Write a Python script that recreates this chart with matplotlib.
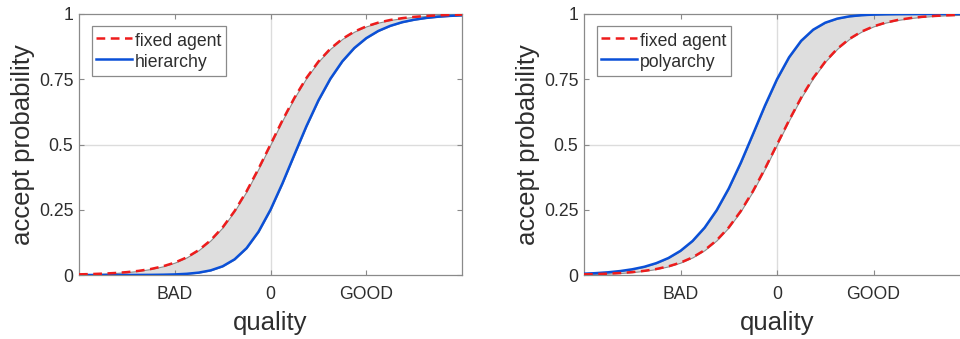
import matplotlib
matplotlib.use("Agg")
import matplotlib.pyplot as plt
from matplotlib.lines import Line2D

plt.rcParams['font.family'] = ['Liberation Sans', 'DejaVu Sans']

# quality axis samples (BAD = -1, 0, GOOD = 1)
quality = [-2.0, -1.875, -1.75, -1.625, -1.5, -1.375, -1.25, -1.125, -1.0,
           -0.875, -0.75, -0.625, -0.5, -0.375, -0.25, -0.125, 0.0,
           0.125, 0.25, 0.375, 0.5, 0.625, 0.75, 0.875, 1.0,
           1.125, 1.25, 1.375, 1.5, 1.625, 1.75, 1.875, 2.0]

fixed_agent = [0.0025, 0.0036, 0.0052, 0.0076, 0.0110, 0.0159, 0.0230, 0.0331, 0.0474,
               0.0675, 0.0953, 0.1330, 0.1824, 0.2451, 0.3208, 0.4073, 0.5000,
               0.5927, 0.6792, 0.7549, 0.8176, 0.8670, 0.9047, 0.9325, 0.9526,
               0.9669, 0.9770, 0.9841, 0.9890, 0.9924, 0.9948, 0.9964, 0.9975]

hierarchy = [0.0000, 0.0000, 0.0000, 0.0001, 0.0001, 0.0003, 0.0005, 0.0011, 0.0022,
             0.0046, 0.0091, 0.0177, 0.0333, 0.0601, 0.1029, 0.1659, 0.2500,
             0.3513, 0.4613, 0.5699, 0.6685, 0.7517, 0.8185, 0.8696, 0.9074,
             0.9349, 0.9545, 0.9685, 0.9781, 0.9849, 0.9896, 0.9928, 0.9950]

polyarchy = [0.0050, 0.0072, 0.0104, 0.0151, 0.0219, 0.0315, 0.0455, 0.0651, 0.0926,
             0.1304, 0.1815, 0.2483, 0.3315, 0.4301, 0.5387, 0.6487, 0.7500,
             0.8341, 0.8971, 0.9399, 0.9667, 0.9823, 0.9909, 0.9954, 0.9978,
             0.9989, 0.9995, 0.9997, 0.9999, 0.9999, 1.0000, 1.0000, 1.0000]

x_ticks = [-1, 0, 1]
x_ticklabels = ['BAD', '0', 'GOOD']
y_ticks = [0, 0.25, 0.5, 0.75, 1]
y_ticklabels = ['0', '0.25', '0.5', '0.75', '1']

RED = '#ee1c1c'
BLUE = '#0a50d8'
SPINE = '#8a8a8a'
TXT = '#2e2e2e'

W, H = 960, 339
fig = plt.figure(figsize=(W / 100, H / 100), dpi=100)

def make_axes(left_px, right_px):
    return fig.add_axes([left_px / W, (H - 275) / H, (right_px - left_px) / W, (275 - 14) / H])

panels = [
    (make_axes(79, 462), hierarchy, 'hierarchy'),
    (make_axes(584, 970), polyarchy, 'polyarchy'),
]

for ax, other, name in panels:
    ax.set_xlim(-2, 2)
    ax.set_ylim(0, 1)
    ax.axvline(0, color='#dcdcdc', lw=1.0, zorder=0)
    ax.axhline(0.5, color='#dcdcdc', lw=1.0, zorder=0)
    ax.fill_between(quality, fixed_agent, other, facecolor='#dedede',
                    edgecolor='#8c8c8c', lw=0.8, zorder=1)
    ax.plot(quality, other, color=BLUE, lw=1.8, zorder=3, solid_joinstyle='round')
    ax.plot(quality, fixed_agent, color=RED, lw=1.8, ls=(0, (3.5, 2.2)), zorder=4)
    ax.set_xticks(x_ticks)
    ax.set_xticklabels(x_ticklabels)
    ax.set_yticks(y_ticks)
    ax.set_yticklabels(y_ticklabels)
    ax.tick_params(direction='in', length=3.5, width=0.8, color=SPINE,
                   top=True, right=True, labelsize=12.7, labelcolor=TXT)
    ax.tick_params(axis='x', pad=8)
    ax.tick_params(axis='y', pad=4)
    for s in ax.spines.values():
        s.set_color(SPINE)
        s.set_linewidth(0.9)
    ax.set_xlabel('quality', fontsize=18.5, color=TXT, labelpad=5.5)
    ax.set_ylabel('accept probability', fontsize=18.5, color=TXT, labelpad=3)
    handles = [Line2D([], [], color=RED, lw=1.8, ls=(0, (3.5, 2.2))),
               Line2D([], [], color=BLUE, lw=1.8)]
    bbox_x = 13 / (ax.get_position().width * W)
    leg = ax.legend(handles, ['fixed agent', name], loc='upper left',
                    bbox_to_anchor=(bbox_x, (275 - 26) / 261), borderaxespad=0,
                    fontsize=12.7, fancybox=False, framealpha=1, edgecolor=SPINE,
                    handlelength=2.0, handletextpad=0.2, borderpad=0.25,
                    labelspacing=0.1, handleheight=1.3)
    leg.get_frame().set_linewidth(0.9)
    for t in leg.get_texts():
        t.set_color(TXT)

fig.savefig('out.png', dpi=100)
